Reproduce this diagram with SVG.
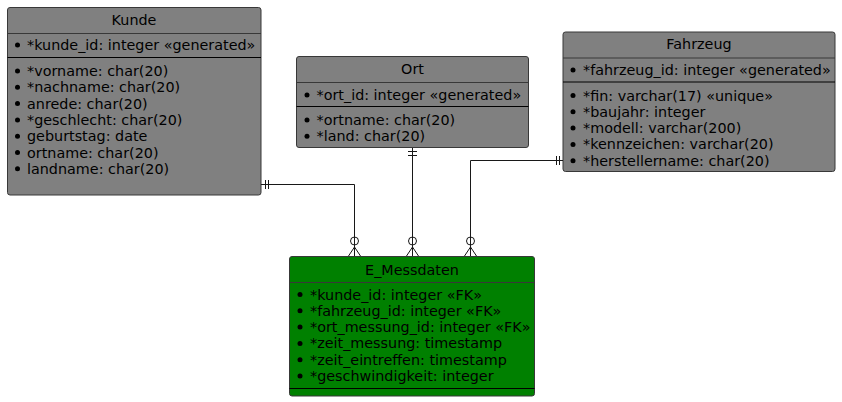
<svg xmlns="http://www.w3.org/2000/svg" width="842" height="402" viewBox="0 0 842 402">
<style>
text{font-family:"DejaVu Sans",sans-serif;font-size:14.35px;fill:#000}
.t{text-anchor:middle}
.box{fill:#808080;stroke:#383838;stroke-width:1}
.green{fill:#008000}
.sep1{stroke:#383838;stroke-width:1}
.sep2{stroke:#000;stroke-width:1}
.b{fill:#000}
.c{fill:none;stroke:#181818;stroke-width:1}
</style>
<rect width="842" height="402" fill="#fff"/>
<g id="Kunde">
<rect class="box" x="7.5" y="7.5" width="253.5" height="187.5" rx="2.5"/>
<text class="t" x="134" y="25">Kunde</text>
<line class="sep1" x1="7.5" y1="33.5" x2="261" y2="33.5"/>
<circle class="b" cx="17.5" cy="45" r="2.5"/><text x="27" y="50">*kunde_id: integer «generated»</text>
<line class="sep2" x1="7.5" y1="57.5" x2="261" y2="57.5"/>
<circle class="b" cx="17.5" cy="71" r="2.5"/><text x="27" y="76">*vorname: char(20)</text>
<circle class="b" cx="17.5" cy="87.3" r="2.5"/><text x="27" y="92.3">*nachname: char(20)</text>
<circle class="b" cx="17.5" cy="103.6" r="2.5"/><text x="27" y="108.6">anrede: char(20)</text>
<circle class="b" cx="17.5" cy="119.9" r="2.5"/><text x="27" y="124.9">*geschlecht: char(20)</text>
<circle class="b" cx="17.5" cy="136.2" r="2.5"/><text x="27" y="141.2">geburtstag: date</text>
<circle class="b" cx="17.5" cy="152.5" r="2.5"/><text x="27" y="157.5">ortname: char(20)</text>
<circle class="b" cx="17.5" cy="168.8" r="2.5"/><text x="27" y="173.8">landname: char(20)</text>
</g>
<g id="Ort">
<rect class="box" x="296.5" y="56.5" width="232" height="91" rx="2.5"/>
<text class="t" x="412.5" y="74">Ort</text>
<line class="sep1" x1="296.5" y1="82.5" x2="528.5" y2="82.5"/>
<circle class="b" cx="307" cy="95" r="2.5"/><text x="316.5" y="100">*ort_id: integer «generated»</text>
<line class="sep2" x1="296.5" y1="106.5" x2="528.5" y2="106.5"/>
<circle class="b" cx="307" cy="120" r="2.5"/><text x="316.5" y="125">*ortname: char(20)</text>
<circle class="b" cx="307" cy="136.3" r="2.5"/><text x="316.5" y="141.3">*land: char(20)</text>
</g>
<g id="Fahrzeug">
<rect class="box" x="563" y="32" width="272" height="139.5" rx="2.5"/>
<text class="t" x="699" y="49">Fahrzeug</text>
<line class="sep1" x1="563" y1="58" x2="835" y2="58"/>
<circle class="b" cx="573" cy="70" r="2.5"/><text x="583" y="75">*fahrzeug_id: integer «generated»</text>
<line class="sep2" x1="563" y1="82" x2="835" y2="82"/>
<circle class="b" cx="573" cy="95.5" r="2.5"/><text x="583" y="100.5">*fin: varchar(17) «unique»</text>
<circle class="b" cx="573" cy="111.8" r="2.5"/><text x="583" y="116.8">*baujahr: integer</text>
<circle class="b" cx="573" cy="128.1" r="2.5"/><text x="583" y="133.1">*modell: varchar(200)</text>
<circle class="b" cx="573" cy="144.4" r="2.5"/><text x="583" y="149.4">*kennzeichen: varchar(20)</text>
<circle class="b" cx="573" cy="160.7" r="2.5"/><text x="583" y="165.7">*herstellername: char(20)</text>
</g>
<g id="E_Messdaten">
<rect class="box green" x="289.5" y="256.5" width="245" height="139.5" rx="2.5"/>
<text class="t" x="412" y="274.5">E_Messdaten</text>
<line class="sep1" x1="289.5" y1="282.5" x2="534.5" y2="282.5"/>
<circle class="b" cx="300" cy="294.5" r="2.5"/><text x="310" y="299.5">*kunde_id: integer «FK»</text>
<circle class="b" cx="300" cy="310.8" r="2.5"/><text x="310" y="315.8">*fahrzeug_id: integer «FK»</text>
<circle class="b" cx="300" cy="327.1" r="2.5"/><text x="310" y="332.1">*ort_messung_id: integer «FK»</text>
<circle class="b" cx="300" cy="343.4" r="2.5"/><text x="310" y="348.4">*zeit_messung: timestamp</text>
<circle class="b" cx="300" cy="359.7" r="2.5"/><text x="310" y="364.7">*zeit_eintreffen: timestamp</text>
<circle class="b" cx="300" cy="376" r="2.5"/><text x="310" y="381">*geschwindigkeit: integer</text>
<line class="sep2" x1="289.5" y1="388.5" x2="534.5" y2="388.5"/>
</g>
<g id="connectors">
<path class="c" d="M261,184.5 H354.5 V256"/>
<path class="c" d="M265.5,180 V189 M268.5,180 V189"/>
<circle class="c" cx="354.5" cy="241" r="4"/>
<path class="c" d="M348.5,256 L354.5,247 L360.5,256"/>
<path class="c" d="M412.5,148 V256"/>
<path class="c" d="M408,151.5 H417 M408,155.5 H417"/>
<circle class="c" cx="412.5" cy="241" r="4"/>
<path class="c" d="M406.5,256 L412.5,247 L418.5,256"/>
<path class="c" d="M563,160.5 H470.5 V256"/>
<path class="c" d="M556.5,156 V165 M559.5,156 V165"/>
<circle class="c" cx="470.5" cy="241" r="4"/>
<path class="c" d="M464.5,256 L470.5,247 L476.5,256"/>
</g>
</svg>
